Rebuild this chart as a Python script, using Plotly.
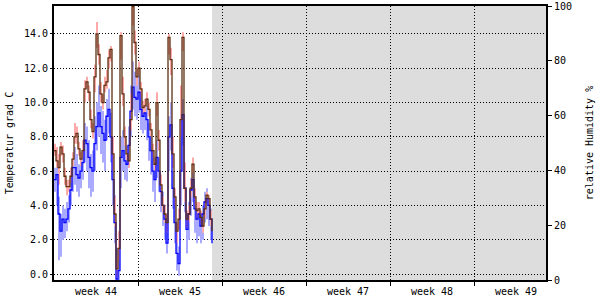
import plotly.graph_objects as go

# sample times in hours since start of week 44 (4-hour steps)
hours = list(range(0, 320, 4))

temp = [7.2, 6.6, 6.2, 7.4, 7.0, 5.7, 5.1, 5.1, 5.7, 6.7,
        8.0, 8.2, 7.3, 6.7, 7.2, 10.8, 11.2, 10.6, 9.0, 8.3,
        11.5, 14.0, 12.8, 10.5, 10.0, 11.0, 11.2, 12.6, 13.1, 7.0,
        3.5, 0.3, 1.5, 13.9, 10.5, 8.0, 7.0, 6.6, 9.0, 15.6,
        13.5, 11.5, 12.0, 10.8, 9.7, 9.8, 10.2, 9.6, 8.4, 7.2,
        6.4, 10.0, 7.8, 5.2, 4.0, 3.5, 3.0, 13.8, 12.5, 7.0,
        4.5, 2.5, 3.2, 9.0, 13.8, 5.0, 3.2, 3.5, 5.0, 6.4,
        4.5, 3.7, 3.8, 3.3, 2.8, 3.8, 4.6, 4.4, 3.2, 2.5]
temp_hi = [7.6, 7.4, 7.0, 7.7, 7.5, 6.2, 5.5, 5.5, 6.2, 7.1,
           8.8, 8.6, 7.7, 7.1, 7.8, 11.3, 11.5, 11.0, 9.6, 8.8,
           12.2, 14.7, 13.4, 11.2, 10.5, 11.5, 11.9, 13.1, 13.3, 8.0,
           4.5, 1.0, 2.5, 14.1, 11.5, 8.6, 7.5, 7.0, 10.5, 15.7,
           14.2, 12.0, 12.4, 11.2, 10.1, 10.2, 10.6, 10.0, 8.8, 7.6,
           6.8, 10.6, 8.4, 5.8, 4.5, 4.0, 3.5, 14.0, 13.2, 8.0,
           5.0, 3.0, 3.8, 11.0, 14.1, 6.5, 3.7, 4.0, 5.5, 6.8,
           5.0, 4.2, 4.2, 3.7, 3.3, 4.3, 4.8, 4.6, 3.7, 2.9]
temp_lo = [6.9, 6.2, 5.2, 6.9, 6.5, 5.2, 4.6, 4.8, 5.3, 6.3,
           7.6, 7.6, 6.9, 6.3, 6.8, 10.0, 10.8, 10.1, 8.5, 7.9,
           10.6, 13.2, 12.2, 10.0, 9.6, 10.6, 10.8, 12.0, 12.4, 6.0,
           2.8, -0.2, 0.8, 12.5, 9.8, 7.5, 6.6, 6.2, 8.4, 14.5,
           12.8, 11.0, 11.6, 10.3, 9.3, 9.4, 9.8, 9.2, 8.0, 6.8,
           6.0, 9.2, 7.2, 4.7, 3.6, 3.0, 2.4, 12.8, 11.6, 6.2,
           4.0, 1.8, 2.6, 8.0, 13.0, 4.2, 2.7, 3.0, 4.5, 5.9,
           4.0, 3.2, 3.4, 2.9, 2.4, 3.3, 4.2, 4.0, 2.8, 2.0]

blue = [5.5, 5.8, 3.5, 2.5, 3.2, 3.0, 3.2, 3.8, 4.9, 6.2,
        6.2, 5.8, 5.6, 6.0, 6.5, 7.8, 7.6, 6.8, 6.2, 6.0,
        7.6, 8.6, 9.4, 8.6, 8.2, 7.8, 9.2, 9.6, 8.0, 5.5,
        3.0, -0.3, 0.2, 6.8, 7.2, 6.6, 6.4, 7.5, 9.5, 10.9,
        10.3, 10.2, 10.6, 9.6, 9.2, 9.4, 9.0, 8.0, 7.2, 6.0,
        5.5, 6.8, 6.0, 4.8, 4.0, 3.2, 1.8, 8.0, 8.7, 5.0,
        3.0, 1.2, 0.6, 6.0, 9.3, 5.0, 2.6, 3.5, 4.9, 5.5,
        3.8, 3.2, 3.5, 2.8, 3.5, 4.2, 4.4, 4.0, 3.2, 1.8]
blue_hi = [6.2, 6.6, 4.5, 3.5, 4.0, 3.8, 4.2, 4.6, 5.8, 6.8,
           7.4, 7.0, 6.4, 6.8, 7.5, 8.8, 8.6, 7.8, 7.0, 7.2,
           9.2, 10.0, 11.0, 9.8, 9.5, 9.0, 10.2, 10.8, 9.4, 7.0,
           4.6, 1.5, 1.5, 8.0, 8.4, 7.6, 7.4, 8.6, 11.0, 12.4,
           11.8, 11.2, 11.6, 10.4, 10.0, 10.0, 9.8, 8.8, 8.0, 6.8,
           6.2, 7.8, 6.8, 5.6, 4.8, 4.0, 3.2, 9.2, 10.0, 6.0,
           4.0, 2.0, 1.6, 8.0, 10.2, 6.2, 3.6, 4.2, 5.6, 6.2,
           4.6, 4.0, 4.2, 3.6, 4.0, 4.8, 5.0, 4.6, 3.8, 2.4]
blue_lo = [4.8, 4.0, 0.8, 1.0, 2.0, 2.1, 2.5, 3.0, 4.0, 4.8,
           5.2, 4.8, 4.5, 5.0, 5.5, 6.5, 6.0, 5.0, 4.5, 4.8,
           6.0, 7.2, 8.0, 7.0, 6.5, 6.0, 7.8, 8.2, 6.5, 4.0,
           1.8, -0.4, -0.4, 5.0, 6.0, 5.5, 5.4, 6.2, 8.0, 9.6,
           9.2, 9.0, 9.4, 8.4, 8.2, 8.4, 7.8, 6.6, 5.8, 4.8,
           4.2, 5.6, 4.8, 3.6, 2.8, 2.0, 1.2, 6.0, 7.2, 3.8,
           1.8, 0.2, -0.1, 4.0, 7.5, 3.6, 1.2, 2.0, 3.4, 4.2,
           2.4, 1.8, 2.2, 1.8, 2.0, 3.0, 3.2, 2.8, 2.0, 0.8]

week_labels = ["week 44", "week 45", "week 46", "week 47", "week 48", "week 49"]
week_hours = 168
x_end = 984  # 41 days shown
temp_ticks = [0, 2, 4, 6, 8, 10, 12, 14]
hum_ticks = [0, 20, 40, 60, 80, 100]

FONT = dict(family="DejaVu Sans Mono", size=10, color="black")

fig = go.Figure()

def band(lo, hi, color):
    fig.add_trace(go.Scatter(x=hours, y=lo, mode="lines", line=dict(width=0, shape="hv"),
                             showlegend=False, hoverinfo="skip"))
    fig.add_trace(go.Scatter(x=hours, y=hi, mode="lines", line=dict(width=0, shape="hv"),
                             fill="tonexty", fillcolor=color, showlegend=False, hoverinfo="skip"))

band(blue_lo, blue_hi, "#aaaaff")
band(temp_lo, temp_hi, "#ffaaaa")
fig.add_trace(go.Scatter(x=hours, y=blue, mode="lines",
                         line=dict(color="#0000ff", width=1.3, shape="hv"), showlegend=False))
fig.add_trace(go.Scatter(x=hours, y=temp, mode="lines",
                         line=dict(color="#5c3010", width=1.3, shape="hv"), showlegend=False))
# dummy trace to activate right axis
fig.add_trace(go.Scatter(x=[hours[0]], y=[None], yaxis="y2", showlegend=False))

centers = [week_hours * i + week_hours / 2 for i in range(len(week_labels))]
bounds = [week_hours * i for i in range(1, len(week_labels))]

fig.add_shape(type="rect", xref="x", yref="paper", x0=hours[-1], x1=x_end, y0=0, y1=1,
              fillcolor="#dddddd", line=dict(width=0), layer="below")

fig.update_layout(
    width=600, height=300,
    margin=dict(l=54, r=54, t=6, b=20),
    paper_bgcolor="white", plot_bgcolor="white",
    font=FONT,
    xaxis=dict(range=[0, x_end], tickvals=centers, ticktext=week_labels, ticks="",
               showgrid=False, zeroline=False, showline=True, linecolor="black", linewidth=2,
               mirror=True, tickfont=FONT, automargin=False, ticklabelstandoff=1,
               minor=dict(tickvals=bounds, showgrid=True, gridcolor="black", griddash="1px,2px",
                          gridwidth=1, ticks="outside", ticklen=4, tickcolor="black")),
    yaxis=dict(range=[-0.35, 15.63], tickvals=temp_ticks, tickformat=".1f",
               showgrid=True, gridcolor="black", griddash="1px,2px", gridwidth=1,
               zeroline=False, showline=True, linecolor="black", linewidth=2,
               ticks="outside", ticklen=2, tickcolor="black", tickfont=FONT,
               title=dict(text="Temperatur grad C", font=FONT, standoff=8), automargin=False),
    yaxis2=dict(range=[0, 100], tickvals=hum_ticks, overlaying="y", side="right",
                showgrid=False, zeroline=False, showline=True, linecolor="black", linewidth=2,
                ticks="outside", ticklen=4, tickcolor="black", tickfont=FONT,
                title=dict(text="relative Humidity %", font=FONT, standoff=15), automargin=False),
)

fig.write_html("out.html")
